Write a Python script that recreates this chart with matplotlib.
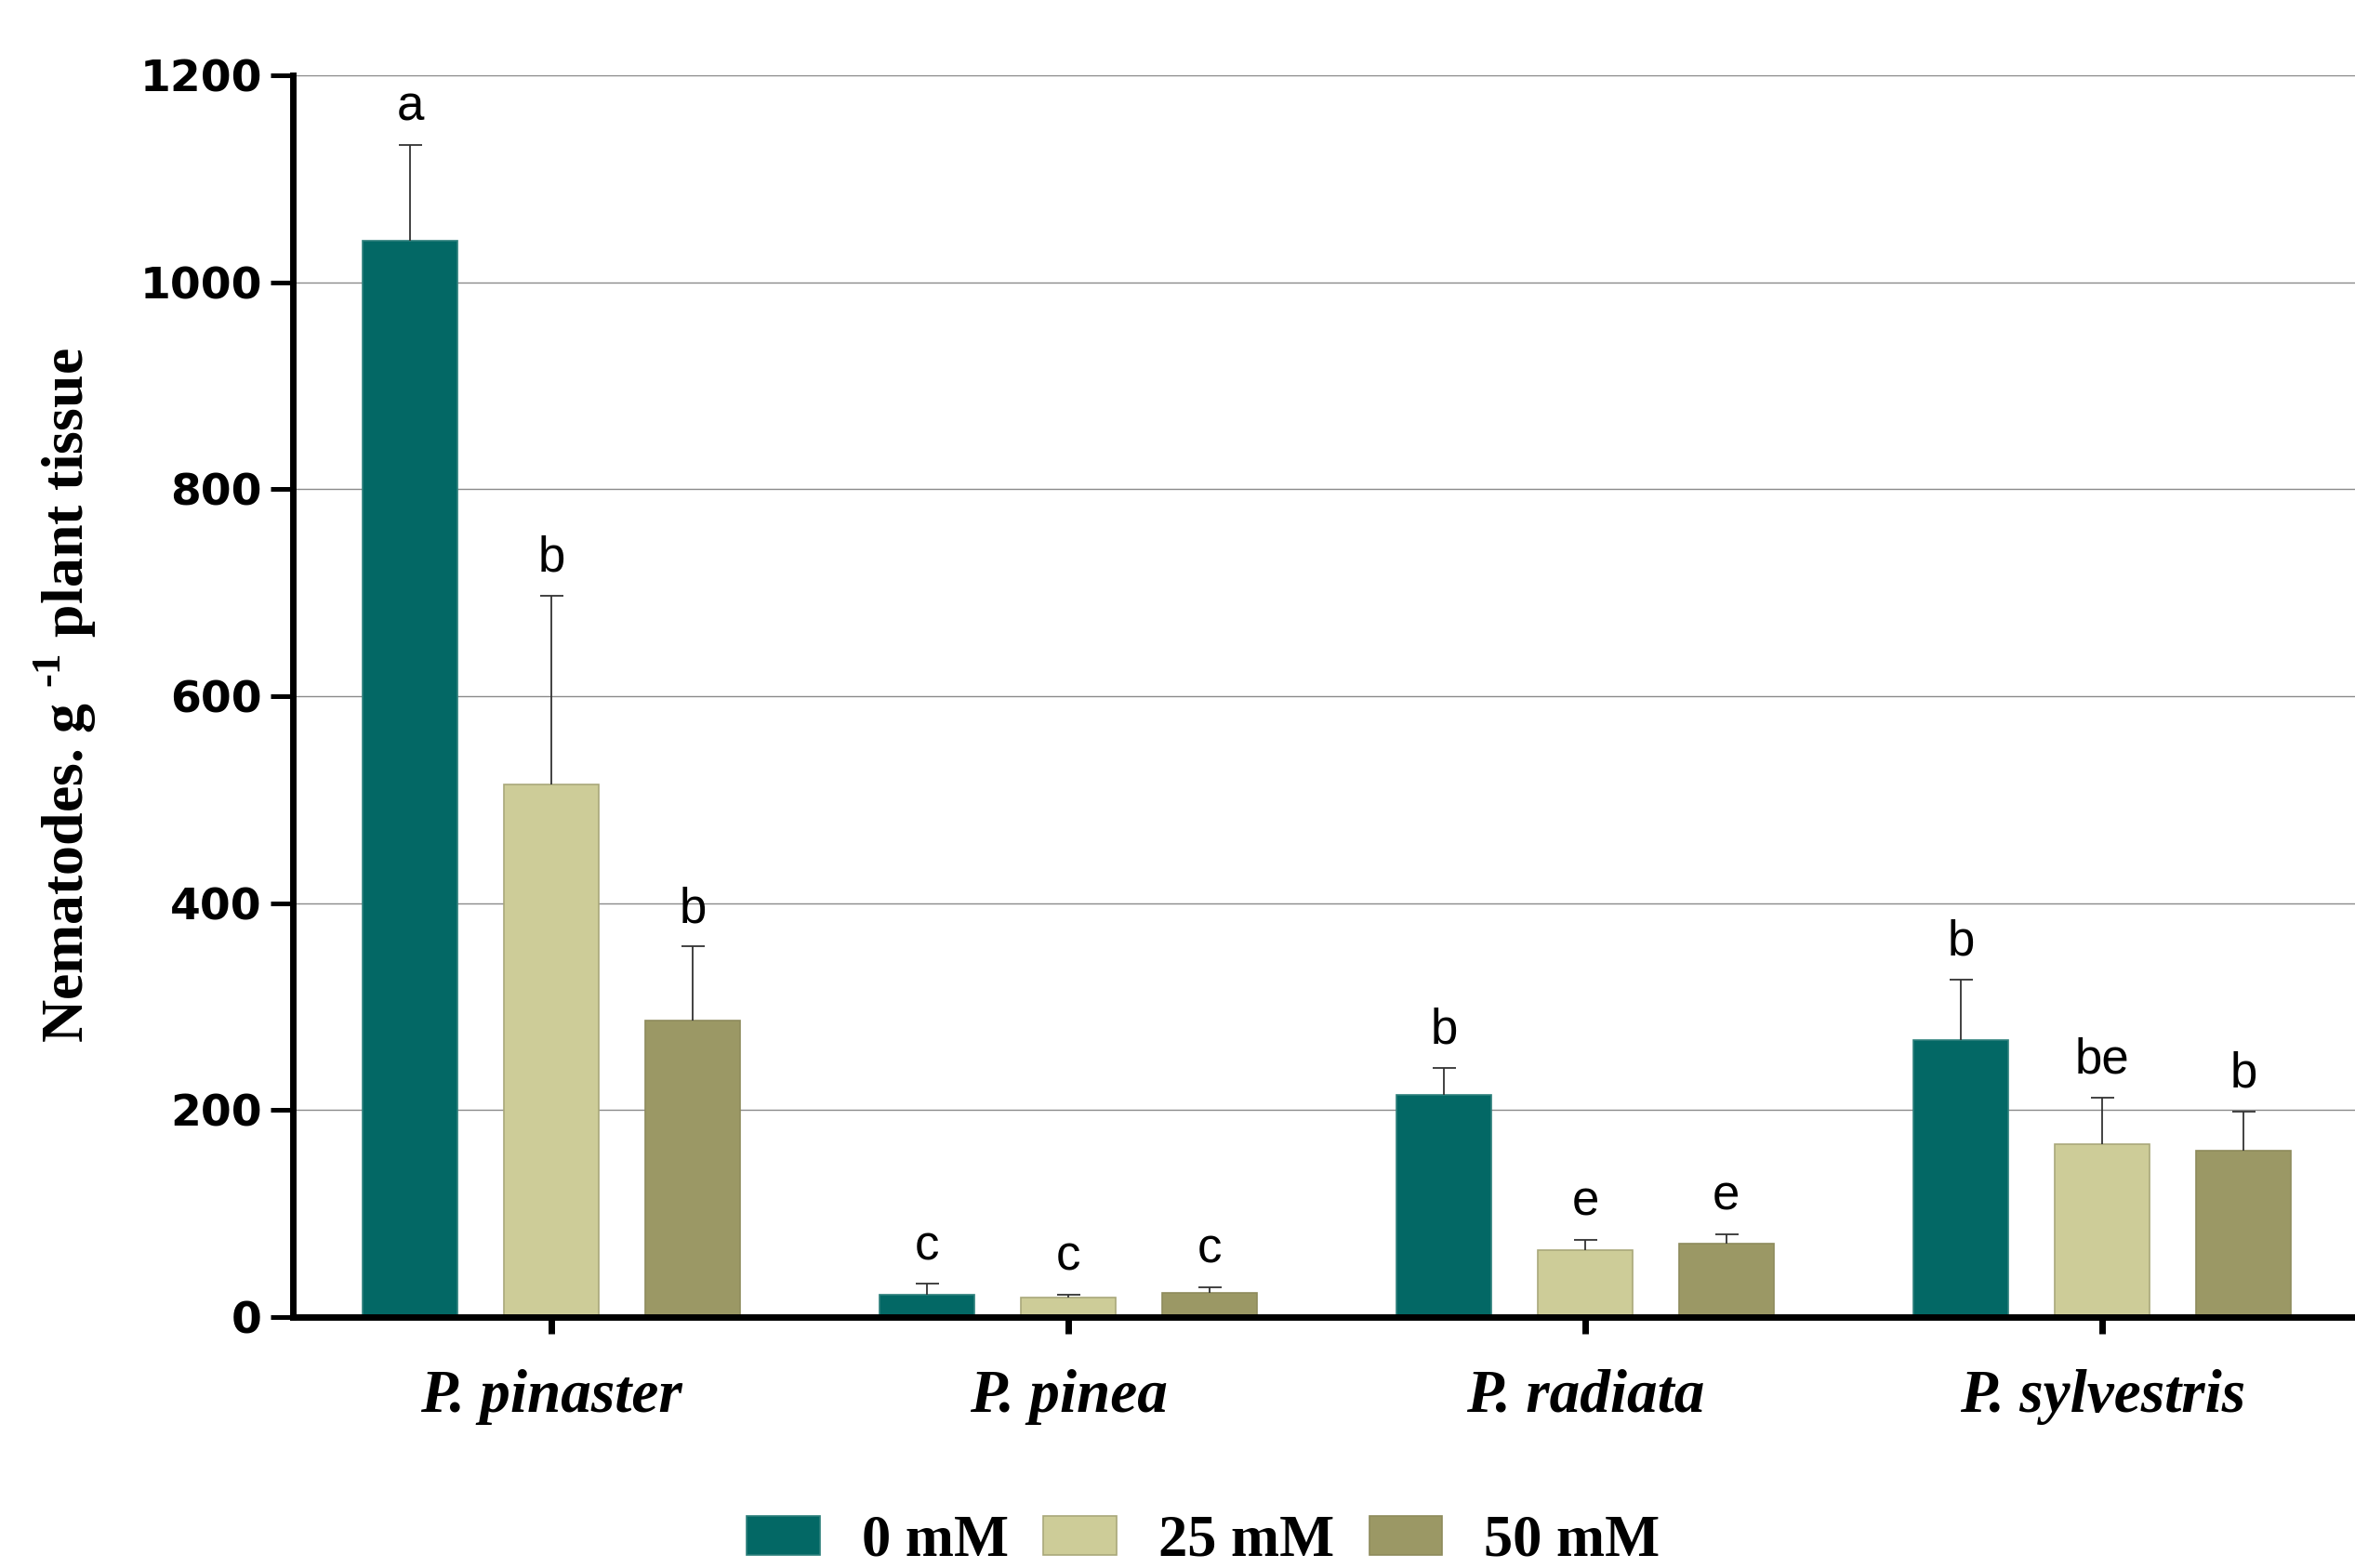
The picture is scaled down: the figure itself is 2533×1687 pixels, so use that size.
import matplotlib
matplotlib.use("Agg")
import matplotlib.pyplot as plt
import numpy as np
from matplotlib.patches import Patch

species = ["P. pinaster", "P. pinea", "P. radiata", "P. sylvestris"]
series_names = ["0 mM", "25 mM", "50 mM"]
mean_0 = [1040, 22, 215, 268]
mean_25 = [515, 19, 65, 167]
mean_50 = [287, 23, 71, 161]
err_0 = [93, 10, 26, 58]
err_25 = [182, 3, 10, 45]
err_50 = [71, 6, 9, 38]
letters_0 = ["a", "c", "b", "b"]
letters_25 = ["b", "c", "e", "be"]
letters_50 = ["b", "c", "e", "b"]
yticks = [0, 200, 400, 600, 800, 1000, 1200]

means = [mean_0, mean_25, mean_50]
errs = [err_0, err_25, err_50]
letters = [letters_0, letters_25, letters_50]
colors = ["#036865", "#CDCC98", "#9B9865"]
edges = ["#2E807C", "#A9A87A", "#8E8B5C"]

plt.rcParams["mathtext.fontset"] = "custom"
plt.rcParams["mathtext.bf"] = "Liberation Serif:bold"
plt.rcParams["mathtext.rm"] = "Liberation Serif:bold"

fig = plt.figure(figsize=(25.33, 16.87), dpi=100)
ax = fig.add_axes([0.1244, 0.160, 0.8756, 0.792])

x = np.arange(len(species))
width = 0.183
offsets = [-0.273, 0.0, 0.273]

ax.set_axisbelow(True)
ax.yaxis.grid(True, color="#8a8a8a", linewidth=1.0)

for i in range(3):
    xs = x + offsets[i]
    ax.bar(xs, means[i], width=width, color=colors[i], edgecolor=edges[i],
           linewidth=1.2, zorder=2)
    eb = ax.errorbar(xs, means[i], yerr=[np.zeros(len(species)), errs[i]], fmt="none",
                     ecolor="#333333", elinewidth=1.3, capsize=9, capthick=1.3, zorder=3)
    caps = eb[1]
    if len(caps) >= 2:
        caps[0].set_visible(False)
    for xi, m, e, lab in zip(xs, means[i], errs[i], letters[i]):
        ax.annotate(lab, (xi, m + e), xytext=(0, 19), textcoords="offset points",
                    ha="center", va="baseline", fontsize=38,
                    family="Liberation Sans", color="black")

ax.set_xlim(-0.5, 3.489)
ax.set_ylim(0, 1200)
ax.set_yticks(yticks)
ax.set_yticklabels([str(v) for v in yticks], fontsize=34, fontweight="bold",
                   family="DejaVu Sans")
ax.set_xticks(x)
ax.set_xticklabels(species, fontsize=47, fontweight="bold", fontstyle="italic",
                   family="Liberation Serif")

for s in ["top", "right"]:
    ax.spines[s].set_visible(False)
for s in ["left", "bottom"]:
    ax.spines[s].set_linewidth(5)
    ax.spines[s].set_color("black")

ax.tick_params(axis="y", direction="out", length=17, width=3.6, pad=7)
ax.tick_params(axis="x", direction="out", length=13, width=5, pad=27)

fig.text(70 / 2533, 1 - 748 / 1687, r"Nematodes. g $^{\text{-1}}$ plant tissue",
         rotation=90, ha="center", va="center", fontsize=46, fontweight="bold",
         family="Liberation Serif")

handles = [Patch(facecolor=colors[i], edgecolor=edges[i], linewidth=1.2)
           for i in range(3)]
fig.legend(handles, series_names, loc="center", bbox_to_anchor=(0.511, 0.0166),
           ncol=3, frameon=False, handlelength=1.26, handleheight=0.67,
           handletextpad=0.72, columnspacing=0.6,
           prop={"family": "Liberation Serif", "weight": "bold", "size": 45})

fig.savefig("out.png", dpi=100)
